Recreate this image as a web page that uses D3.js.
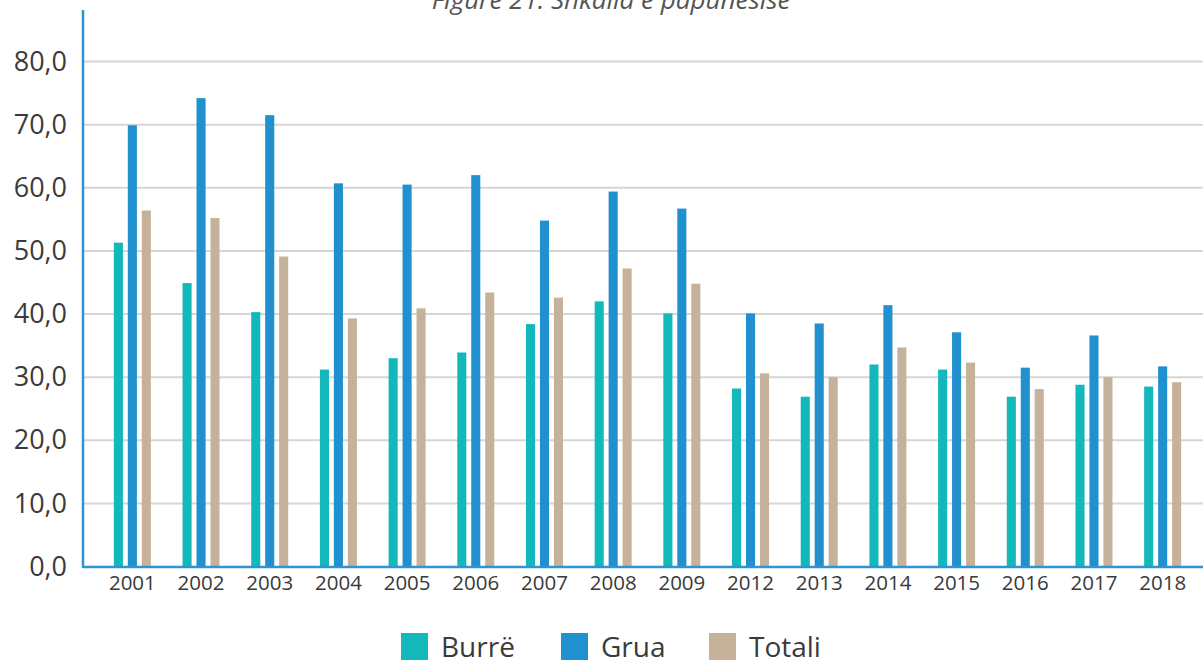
<!DOCTYPE html>
<html>
<head>
<meta charset="utf-8">
<script src="https://cdn.jsdelivr.net/npm/d3@7"></script>
<style>
    body { margin: 0; background: #fff; }
    svg text { font-family: "Open Sans", "Noto Sans", sans-serif; fill: #3a3a3a; }
</style>
</head>
<body>
<div id="chart"></div>
<script>
// data
var years = ['2001', '2002', '2003', '2004', '2005', '2006', '2007', '2008', '2009',
    '2012', '2013', '2014', '2015', '2016', '2017', '2018']
var seriesNames = ['Burrë', 'Grua', 'Totali']
var burre = [51.3, 44.9, 40.3, 31.2, 33.0, 33.9, 38.4, 42.0, 40.1, 28.2, 26.9, 32.0, 31.2, 26.9, 28.8, 28.5]
var grua = [69.9, 74.2, 71.5, 60.7, 60.5, 62.0, 54.8, 59.4, 56.7, 40.1, 38.5, 41.4, 37.1, 31.5, 36.6, 31.7]
var totali = [56.4, 55.2, 49.1, 39.3, 40.9, 43.4, 42.6, 47.2, 44.8, 30.6, 30.0, 34.7, 32.3, 28.1, 30.0, 29.2]
var yTicks = [0, 10, 20, 30, 40, 50, 60, 70, 80]
var colors = ['#12b8ba', '#2190cf', '#c6b29a']
var title = 'Figure 21: Shkalla e papunësisë'

;(function () {
    var width = 1203, height = 660
    var svg = d3.select('#chart').append('svg').attr('width', width).attr('height', height)

    var x0 = d3.scaleBand().domain(years).range([98, 1197])
    var x1 = d3.scaleBand().domain(seriesNames).range([-18.5, 18.5]).paddingInner(0.35)
    var y = d3.scaleLinear().domain([0, 80]).range([566.5, 61.5])
    var values = [burre, grua, totali]

    // grid lines
    svg.append('g').selectAll('line').data(yTicks.slice(1)).enter().append('line')
        .attr('x1', 84).attr('x2', width)
        .attr('y1', function (d) { return y(d) }).attr('y2', function (d) { return y(d) })
        .attr('stroke', '#d6d6d6').attr('stroke-width', 2)

    // y tick labels
    var yAxis = d3.axisLeft(y).tickValues(yTicks).tickSize(0).tickPadding(0)
        .tickFormat(function (d) { return d3.format('.1f')(d).replace('.', ',') })
    var gy = svg.append('g').attr('transform', 'translate(67,0)').call(yAxis)
    gy.select('.domain').remove()
    gy.selectAll('text').attr('font-size', 27).attr('fill', '#3a3a3a').attr('font-family', null)

    // bars
    var groups = svg.append('g').selectAll('g').data(years).enter().append('g')
        .attr('transform', function (d) { return 'translate(' + (x0(d) + x0.bandwidth() / 2) + ',0)' })
    groups.selectAll('rect').data(function (d, i) {
        return seriesNames.map(function (s, j) { return {s: s, v: values[j][i], c: colors[j]} })
    }).enter().append('rect')
        .attr('x', function (d) { return x1(d.s) })
        .attr('width', x1.bandwidth())
        .attr('y', function (d) { return y(d.v) })
        .attr('height', function (d) { return y(0) - y(d.v) })
        .attr('fill', function (d) { return d.c })

    // x axis
    var xAxis = d3.axisBottom(x0).tickSize(0).tickPadding(8)
    var gx = svg.append('g').attr('transform', 'translate(0,' + 567 + ')').call(xAxis)
    gx.select('.domain').remove()
    gx.selectAll('text').attr('font-size', 20.5).attr('fill', '#3a3a3a').attr('font-family', null)

    // axis lines
    svg.append('line').attr('x1', 83).attr('x2', width).attr('y1', 567).attr('y2', 567)
        .attr('stroke', '#2f95d2').attr('stroke-width', 2.5)
    svg.append('line').attr('x1', 83).attr('x2', 83).attr('y1', 10).attr('y2', 568)
        .attr('stroke', '#2f95d2').attr('stroke-width', 2.5)

    // title, cut at the top
    svg.append('text').attr('x', 611).attr('y', 9).attr('text-anchor', 'middle')
        .attr('font-size', 26).attr('font-style', 'italic').style('fill', '#555').text(title)

    // legend
    var legendX = [401, 561, 709]
    var legend = svg.append('g').selectAll('g').data(seriesNames).enter().append('g')
        .attr('transform', function (d, i) { return 'translate(' + legendX[i] + ',633)' })
    legend.append('rect').attr('width', 27).attr('height', 27)
        .attr('fill', function (d, i) { return colors[i] })
    legend.append('text').attr('x', 40).attr('y', 24).attr('font-size', 28).text(function (d) { return d })
})()
</script>
</body>
</html>
